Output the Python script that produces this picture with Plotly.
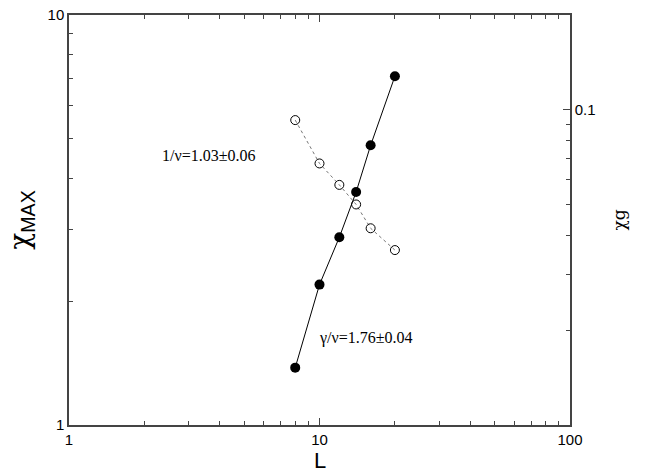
import plotly.graph_objects as go

# System sizes
L = [8, 10, 12, 14, 16, 20]
# Peak susceptibility (left axis)
chi_max = [1.38, 2.20, 2.87, 3.70, 4.81, 7.09]
# chi_g (right axis)
chi_g = [0.0928, 0.0676, 0.0578, 0.0501, 0.0421, 0.0359]

x_ticks = [1, 10, 100]
x_minor = [2, 3, 4, 5, 6, 7, 8, 9, 20, 30, 40, 50, 60, 70, 80, 90]
y_ticks = [1, 10]
y_minor = [2, 3, 4, 5, 6, 7, 8, 9]
y2_ticks = [0.1]
y2_minor = [0.02, 0.03, 0.04, 0.05, 0.06, 0.07, 0.08, 0.09]

axis_col = "#444444"
sans = "Liberation Sans, Arial, sans-serif"
serif = "Liberation Serif, Times New Roman, serif"
greek = "DejaVu Serif, serif"

fig = go.Figure()

fig.add_trace(go.Scatter(
    x=L, y=chi_g, yaxis="y2", mode="lines+markers",
    line=dict(color="#777777", width=1, dash="dot"),
    marker=dict(symbol="circle-open", size=9, color="black", line=dict(width=1)),
    showlegend=False,
))
fig.add_trace(go.Scatter(
    x=L, y=chi_max, mode="lines+markers",
    line=dict(color="black", width=1),
    marker=dict(symbol="circle", size=10, color="black"),
    showlegend=False,
))

fig.update_layout(
    width=647, height=472,
    margin=dict(l=69, r=77, t=15, b=47),
    paper_bgcolor="white", plot_bgcolor="white",
    font=dict(family=sans, size=15, color="black"),
    xaxis=dict(
        type="log", range=[0, 2], automargin=False,
        tickvals=x_ticks, ticktext=[str(v) for v in x_ticks],
        ticks="inside", ticklen=7, tickcolor=axis_col,
        minor=dict(tickvals=x_minor, ticks="inside", ticklen=4, tickcolor=axis_col, showgrid=False),
        showline=True, linecolor=axis_col, linewidth=1.5, mirror="ticks",
        showgrid=False, zeroline=False,
    ),
    yaxis=dict(
        type="log", range=[0, 1], automargin=False,
        tickvals=y_ticks, ticktext=[str(v) for v in y_ticks],
        ticks="inside", ticklen=7, tickcolor=axis_col,
        minor=dict(tickvals=y_minor, ticks="inside", ticklen=4, tickcolor=axis_col, showgrid=False),
        showline=True, linecolor=axis_col, linewidth=1.5,
        showgrid=False, zeroline=False,
        title=dict(text="χ<sub><span style='font-family:Liberation Sans'>MAX</span></sub>",
                   font=dict(size=28, family=greek), standoff=10),
    ),
    yaxis2=dict(
        type="log", range=[-2, -0.69897], overlaying="y", side="right", automargin=False,
        tickvals=y2_ticks, ticktext=["0.1"],
        ticks="inside", ticklen=7, tickcolor=axis_col,
        minor=dict(tickvals=y2_minor, ticks="inside", ticklen=4, tickcolor=axis_col, showgrid=False),
        showline=True, linecolor=axis_col, linewidth=1.5,
        showgrid=False, zeroline=False,
        title=dict(text="χg", font=dict(size=17, family=greek), standoff=18),
    ),
    annotations=[
        # x-axis title, placed below the tick labels
        dict(text="L", xref="paper", yref="paper", x=0.5, y=-0.086,
             xanchor="center", yanchor="middle",
             showarrow=False, font=dict(family=sans, size=22)),
        dict(text="1/ν=1.03±0.06", xref="paper", yref="paper", x=0.279, y=0.658,
             xanchor="center", yanchor="middle",
             showarrow=False, font=dict(family=serif, size=16)),
        dict(text="γ/ν=1.76±0.04", xref="paper", yref="paper", x=0.593, y=0.2125,
             xanchor="center", yanchor="middle",
             showarrow=False, font=dict(family=serif, size=16)),
    ],
)

fig.write_html("out.html")
